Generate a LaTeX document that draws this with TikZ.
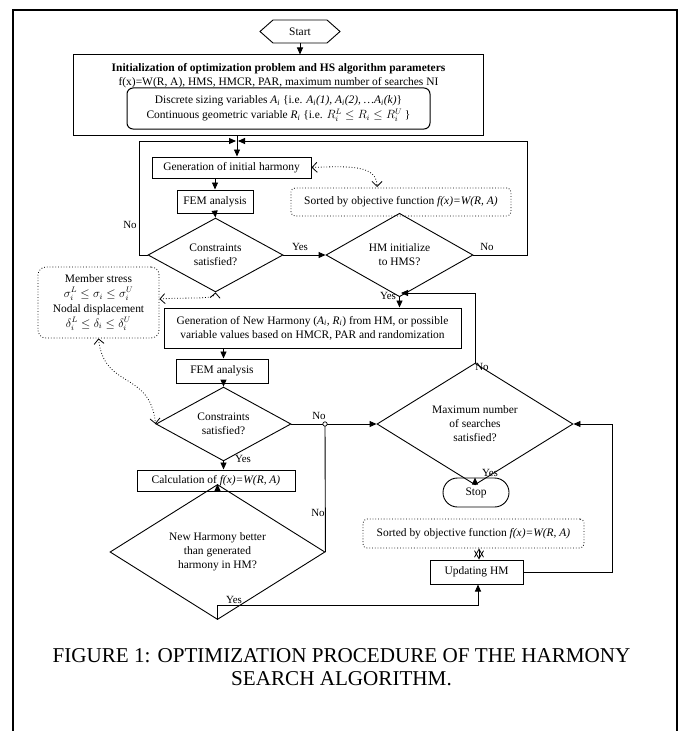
\documentclass[tikz,border=0pt]{standalone}
\usepackage{fontspec}
\setmainfont{Liberation Serif}
\usetikzlibrary{arrows.meta,shapes.geometric,shapes.misc}

\begin{document}
\begin{tikzpicture}[x=1bp,y=-1bp,
  every node/.style={font=\fontsize{11.5}{14}\selectfont, inner sep=0pt},
  proc/.style={draw, line width=1bp, rectangle, align=center},
  note/.style={draw, dotted, line width=0.8bp, rounded corners=4bp, align=center},
  decision/.style={draw, line width=0.9bp, diamond, align=center},
  flow/.style={line width=0.9bp, -{Triangle[length=7bp,width=6bp]}},
  link/.style={line width=0.9bp},
  hint/.style={dotted, line width=0.8bp,
    {Straight Barb[length=5bp,width=10bp]}-{Straight Barb[length=5bp,width=10bp]}},
  pair/.style={line width=0.8bp,
    {Straight Barb[length=8bp,width=9bp]}-{Straight Barb[length=8bp,width=9bp]}},
  lbl/.style={font=\fontsize{11}{13}\selectfont},
  caption/.style={font=\fontsize{21.2}{23.5}\selectfont, anchor=base},
]
\useasboundingbox (0,0) rectangle (683,731);

% outer frame
\draw[line width=1.8bp] (13,731) -- (13,10) -- (677,10) -- (677,731);

% start terminal (hexagon)
\node (start) at (300,31.5) [minimum width=80bp, minimum height=23bp] {Start};
\draw[line width=0.9bp] (260,31.5) -- (273,20) -- (327,20) -- (340,31.5) -- (327,43) -- (273,43) -- cycle;

% initialisation block
\node[proc, minimum width=409bp, minimum height=80bp] (init) at (278.5,95) {};
\node (initT) at (278.5,69) {\bfseries Initialization of optimization problem and HS algorithm parameters};
\node (initF) at (278.5,83) {f(x)=W(R, A), HMS, HMCR, PAR, maximum number of searches NI};
\node[draw, line width=1bp, rounded corners=6bp, align=center, minimum width=303bp, minimum height=41bp]
  (vars) at (278.5,108.5)
  {Discrete sizing variables \textit{A\textsubscript{i}} \{i.e. \textit{A\textsubscript{i}(1), A\textsubscript{i}(2), \dots A\textsubscript{i}(k)}\}\\[1.5bp]
   Continuous geometric variable \textit{R\textsubscript{i}} \{i.e. $R_i^L \le R_i \le R_i^U$ \}};

% initial harmony memory loop
\node[proc, minimum width=159bp, minimum height=21bp] (gih) at (231.5,167.5) {Generation of initial harmony};
\node[proc, minimum width=76bp, minimum height=23bp] (fem1) at (215,201.5) {FEM analysis};
\node[note, minimum width=220bp, minimum height=28bp] (sort1) at (401,202) {Sorted by objective function \textit{f(x)=W(R, A)}};
\node[decision, minimum width=135bp, minimum height=61bp] (c1) at (215.5,255) {Constraints\\satisfied?};
\node[decision, minimum width=147bp, minimum height=61bp] (hm) at (399.5,255) {HM initialize\\to HMS?};

% constraint note
\node[note, rounded corners=8bp, minimum width=121bp, minimum height=71bp] (memb) at (98.5,302.5)
  {Member stress\\[0.5bp]$\sigma_i^L \le \sigma_i \le \sigma_i^U$\\[1.5bp]Nodal displacement\\[0.5bp]$\delta_i^L \le \delta_i \le \delta_i^U$};

% improvisation loop
\node[proc, minimum width=297bp, minimum height=40bp] (gnh) at (312.5,328)
  {Generation of New Harmony (\textit{A\textsubscript{i}, R\textsubscript{i}}) from HM, or possible\\variable values based on HMCR, PAR and randomization};
\node[proc, minimum width=92bp, minimum height=24bp] (fem2) at (222,371) {FEM analysis};
\node[decision, minimum width=135bp, minimum height=61bp] (c2) at (223.5,424) {Constraints\\satisfied?};
\node[decision, minimum width=196bp, minimum height=90bp] (maxs) at (475,424) {Maximum number\\of searches\\satisfied?};
\node[draw, line width=0.9bp, rounded rectangle, minimum width=66bp, minimum height=29bp] (stop) at (476,492.5) {Stop};
\node[proc, minimum width=158bp, minimum height=21bp] (calc) at (216,480.5) {Calculation of \textit{f(x)=W(R, A)}};
\node[decision, minimum width=215bp, minimum height=98bp] (nh) at (217.5,552)
  {New Harmony better\\than generated\\harmony in HM?};
\node[note, minimum width=221bp, minimum height=29bp] (sort2) at (473.5,533.5) {Sorted by objective function \textit{f(x)=W(R, A)}};
\node[proc, minimum width=93bp, minimum height=24bp] (upd) at (476.5,572) {Updating HM};

% junction points
\coordinate (jtop) at (237,141);
\coordinate (jyes) at (399.5,293);
\coordinate (jno) at (325,424);

% connectors: initialisation
\draw[flow] (start.south) -- (init.north -| start);
\draw[link] (init.south -| jtop) -- (jtop);
\draw[flow] (jtop) -- (gih.north -| jtop);
\draw[flow] (c1.west) -- (139,255) -- (139,141) -- ([xshift=-1bp]jtop);
\draw[flow] (hm.east) -- (527,255) -- (527,141) -- ([xshift=1bp]jtop);
\draw[flow] (gih.south -| fem1) -- (fem1.north);
\draw[flow] (fem1.south) -- (c1.north);
\draw[flow] (c1.east) -- (hm.west);
\draw[flow] (hm.south) -- (gnh.north -| hm);
\draw[flow] (maxs.north) -- (maxs.north |- jyes) -- ([xshift=1.5bp]jyes);

% connectors: improvisation
\draw[flow] (gnh.south -| c2) -- (fem2.north -| c2);
\draw[flow] (fem2.south -| c2) -- (c2.north);
\draw[flow] (c2.east) -- (maxs.west);
\draw[link] (nh.east) -- (jno);
\draw[fill=white, line width=0.7bp] (jno) circle (2.2bp);
\draw[flow] (c2.south) -- (calc.north -| c2);
\draw[flow] (calc.south -| nh) -- (nh.north);
\draw[flow] (nh.south) -- (217.5,605) -- (478,605) -- (upd.south -| 478,0);
\draw[flow] (maxs.south) -- (stop.north -| maxs);
\draw[flow] (upd.east) -- (612,572) -- (612,424) -- (maxs.east);

% dotted associations
\draw[hint] (gih.east) .. controls (350,166) and (377,165) .. (377,187);
\draw[hint] (memb.east |- 0,299) .. controls (190,297) and (215,300) .. (c1.south);
\draw[hint] (memb.south) .. controls (104,390) and (150,370) .. (c2.west);
\draw[pair] (sort2.south -| 479,0) -- (upd.north -| 479,0);

% branch labels
\node[lbl] (no1) at (130,225) {No};
\node[lbl] (yes1) at (300,247) {Yes};
\node[lbl] (no2) at (487,247) {No};
\node[lbl] (yes2) at (388,296) {Yes};
\node[lbl] (no3) at (482,367) {No};
\node[lbl] (no4) at (319,416) {No};
\node[lbl] (no5) at (318,513) {No};
\node[lbl] (yes3) at (243,459) {Yes};
\node[lbl] (yes4) at (234,600) {Yes};
\node[lbl] (yes5) at (490,473) {Yes};

% caption
\node[caption] (cap1) at (341.5,662) {FIGURE 1: OPTIMIZATION PROCEDURE OF THE HARMONY};
\node[caption] (cap2) at (341.5,685.5) {SEARCH ALGORITHM.};
\end{tikzpicture}
\end{document}
